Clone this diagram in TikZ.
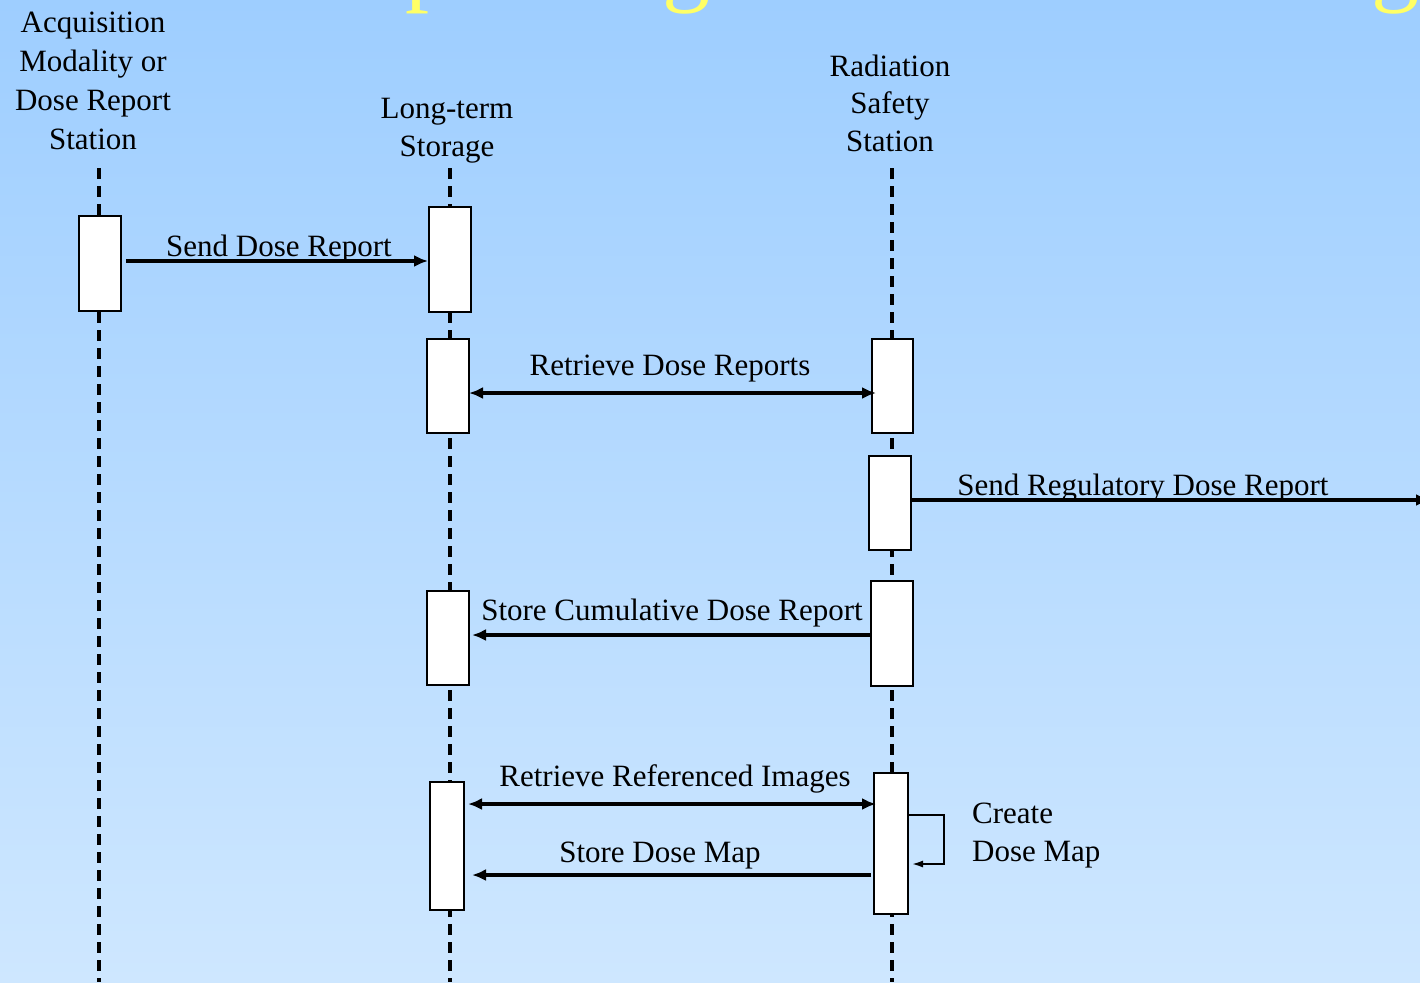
\documentclass[tikz,border=0pt]{standalone}
\usepackage{fontspec}
\setmainfont{Liberation Serif}
\usetikzlibrary{arrows.meta,calc}
\definecolor{bgtop}{RGB}{158,206,255}
\definecolor{bgbot}{RGB}{206,231,255}
\definecolor{ttl}{RGB}{255,255,102}
\tikzset{
  lbl/.style={font=\fontsize{31}{38}\selectfont, inner sep=0pt, anchor=base},
  hdr/.style={font=\fontsize{31}{38.7}\selectfont, inner sep=0pt, align=center, anchor=base},
  actbox/.style={draw=black, fill=white, line width=2pt, inner sep=0pt},
  lifeline/.style={line width=3.8pt, dash pattern=on 11pt off 7pt},
  msg/.style={line width=3.3pt, -{Latex[length=14pt,width=12pt]}},
  dmsg/.style={line width=3.3pt, {Latex[length=14pt,width=12pt]}-{Latex[length=14pt,width=12pt]}},
  selfmsg/.style={line width=2.8pt, -{Latex[length=12pt,width=7pt]}},
  ttlglyph/.style={font=\fontsize{96}{100}\selectfont, text=ttl, inner sep=0pt, anchor=base west}
}
\begin{document}
\begin{tikzpicture}[x=1pt,y=-1pt]
\useasboundingbox (0,0) rectangle (1420,982);
\clip (0,0) rectangle (1420,982);
\shade[top color=bgtop, bottom color=bgbot] (0,0) rectangle (1420,982);

% clipped title glyphs
\node[ttlglyph] (t1) at (405,-6) {p};
\node[ttlglyph] (t2) at (662,-6) {g};
\node[ttlglyph] (t3) at (1371,-6) {g};

% headers (base = baseline of last line)
\node[hdr] (hA) at (93,149) {Acquisition\\Modality or\\Dose Report\\Station};
\node[hdr, font=\fontsize{31}{38}\selectfont] (hL) at (447,156) {Long-term\\Storage};
\node[hdr, font=\fontsize{31}{37.5}\selectfont] (hR) at (890,151) {Radiation\\Safety\\Station};

% lifelines
\coordinate (a1) at (99,168);  \coordinate (a2) at (99,982);
\coordinate (b1) at (450,168); \coordinate (b2) at (450,982);
\coordinate (c1) at (892,168); \coordinate (c2) at (892,982);
\draw[lifeline] (a1) -- (a2);
\draw[lifeline] (b1) -- (b2);
\draw[lifeline] (c1) -- (c2);

% activation boxes
\node[actbox, minimum width=42pt, minimum height=95pt]  (A1) at (100,263.5) {};
\node[actbox, minimum width=42pt, minimum height=105pt] (L1) at (450,259.5) {};
\node[actbox, minimum width=42pt, minimum height=94pt]  (L2) at (448,386) {};
\node[actbox, minimum width=41pt, minimum height=94pt]  (R1) at (892.5,386) {};
\node[actbox, minimum width=42pt, minimum height=94pt]  (R2) at (890,503) {};
\node[actbox, minimum width=42pt, minimum height=105pt] (R3) at (892,633.5) {};
\node[actbox, minimum width=42pt, minimum height=94pt]  (L3) at (448,638) {};
\node[actbox, minimum width=34pt, minimum height=128pt] (L4) at (447,846) {};
\node[actbox, minimum width=34pt, minimum height=141pt] (R4) at (891,843.5) {};

% messages
\draw[msg] ([xshift=4pt,yshift=2.5pt]A1.east) -- ([yshift=2.5pt]A1.east -| L1.west);
\node[lbl] (m1) at (279,256) {Send Dose Report};

\draw[dmsg] ([xshift=-1pt,yshift=-7pt]L2.east) -- ([xshift=5pt,yshift=-7pt]R1.west);
\node[lbl] (m2) at (670,375) {Retrieve Dose Reports};

\coordinate (edge) at (1430,500);
\draw[msg] ([yshift=3pt]R2.east) -- (edge);
\node[lbl] (m3) at (1143,495) {Send Regulatory Dose Report};

\draw[msg] ([yshift=-1.5pt]R3.west) -- ([xshift=2pt,yshift=-1.5pt]R3.west -| L3.east);
\node[lbl] (m4) at (672,620) {Store Cumulative Dose Report};

\draw[dmsg] ([xshift=3pt,yshift=39.5pt]R4.west -| L4.east) -- ([xshift=3pt,yshift=39.5pt]R4.west);
\node[lbl] (m5) at (675,786) {Retrieve Referenced Images};

\draw[msg] ([xshift=-2pt,yshift=-31.5pt]R4.west) -- ([xshift=7pt,yshift=-31.5pt]R4.west -| L4.east);
\node[lbl] (m6) at (660,862) {Store Dose Map};

\draw[selfmsg] ([yshift=28.5pt]R4.east) -- ++(35,0) -- ++(0,49) -- ++(-33,0);
\node[lbl, anchor=base west] (m7) at (972,823) {Create};
\node[lbl, anchor=base west] (m8) at (972,861) {Dose Map};
\end{tikzpicture}
\end{document}
